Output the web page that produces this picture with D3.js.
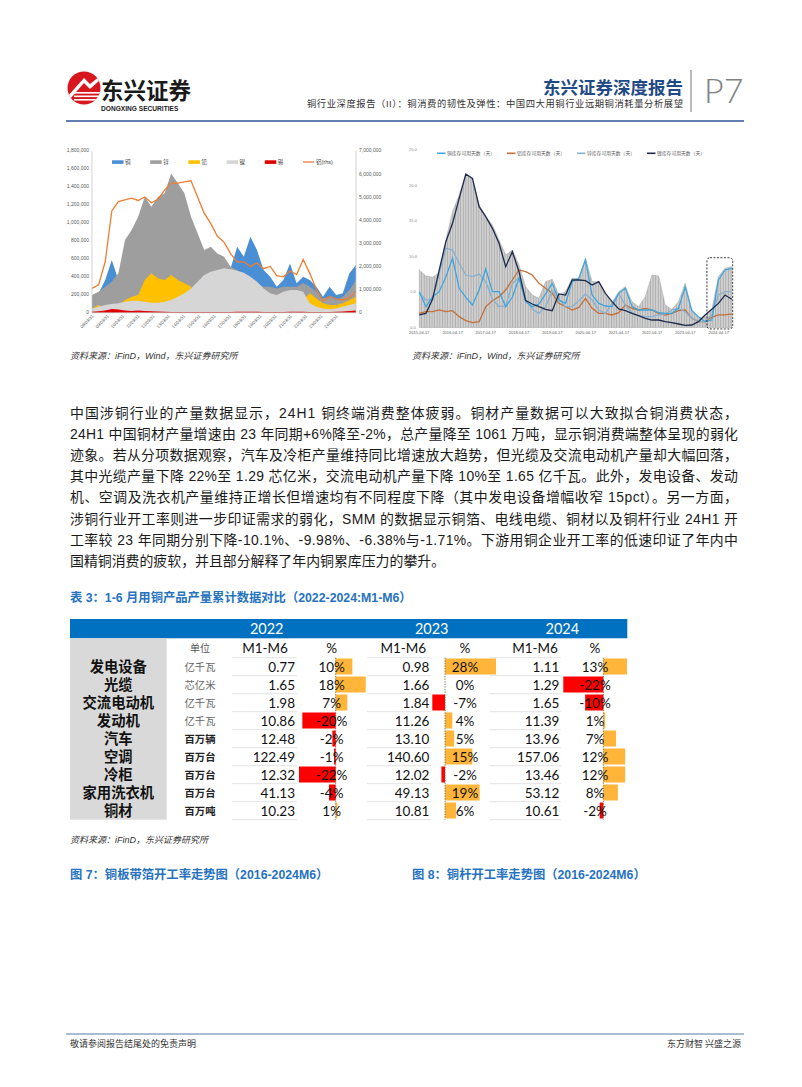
<!DOCTYPE html>
<html><head><meta charset="utf-8">
<script src="https://cdn.jsdelivr.net/npm/d3@7"></script>
<style>
body{margin:0;background:#fff;}
svg{display:block;}
</style></head><body>
<svg id="page" width="802" height="1087"></svg>
<script>
// ---------------- DATA ----------------
// Table 3
const tblYears = ["2022", "2023", "2024"];
const tblCategories = ["发电设备","光缆","交流电动机","发动机","汽车","空调","冷柜","家用洗衣机","铜材"];
const tblUnits = ["亿千瓦","芯亿米","亿千瓦","亿千瓦","百万辆","百万台","百万台","百万台","百万吨"];
const val2022 = [0.77, 1.65, 1.98, 10.86, 12.48, 122.49, 12.32, 41.13, 10.23];
const pct2022 = [10, 18, 7, -20, -2, -1, -22, -4, 1];
const val2023 = [0.98, 1.66, 1.84, 11.26, 13.10, 140.60, 12.02, 49.13, 10.81];
const pct2023 = [28, 0, -7, 4, 5, 15, -2, 19, 6];
const val2024 = [1.11, 1.29, 1.65, 11.39, 13.96, 157.06, 13.46, 53.12, 10.61];
const pct2024 = [13, -22, -10, 1, 7, 12, 12, 8, -2];

// Top-left chart: metal inventories (tonnes), sampled evenly from 2008-03
const lmeNames = ["铜", "锌", "铅", "镍", "锡", "铝(rhs)"];
const lmeCu = [178e3,215e3,363e3,585e3,363e3,511e3,585e3,511e3,437e3,363e3,326e3,289e3,326e3,363e3,363e3,437e3,511e3,622e3,659e3,622e3,585e3,493e3,733e3,622e3,844e3,696e3,474e3,400e3,289e3,363e3,548e3,326e3,400e3,363e3,289e3,178e3,289e3,196e3,215e3,437e3,530e3];
const lmeZn = [196e3,233e3,289e3,344e3,437e3,807e3,919e3,1067e3,1289e3,1178e3,1289e3,1326e3,1548e3,1437e3,1326e3,1067e3,882e3,696e3,733e3,659e3,622e3,511e3,474e3,400e3,363e3,326e3,289e3,289e3,270e3,289e3,289e3,289e3,326e3,289e3,233e3,159e3,178e3,141e3,178e3,252e3,363e3];
const lmePb = [48e3,85e3,48e3,67e3,85e3,141e3,178e3,196e3,363e3,437e3,381e3,363e3,419e3,363e3,326e3,289e3,141e3,150e3,160e3,170e3,180e3,190e3,200e3,210e3,220e3,200e3,180e3,160e3,150e3,140e3,130e3,120e3,140e3,215e3,159e3,104e3,85e3,85e3,104e3,141e3,178e3];
const lmeNi = [48e3,67e3,85e3,96e3,104e3,122e3,133e3,133e3,122e3,111e3,111e3,122e3,141e3,178e3,215e3,270e3,344e3,419e3,456e3,474e3,493e3,482e3,467e3,444e3,400e3,344e3,270e3,215e3,196e3,233e3,252e3,252e3,233e3,104e3,67e3,48e3,37e3,48e3,67e3,85e3,104e3];
const lmeSn = [10e3,15e3,25e3,40e3,35e3,25e3,20e3,25e3,20e3,15e3,12e3,10e3,8e3,8e3,8e3,8e3,8e3,8e3,8e3,8e3,8e3,8e3,10e3,10e3,10e3,10e3,8e3,8e3,8e3,8e3,10e3,10e3,10e3,8e3,8e3,8e3,8e3,10e3,12e3,20e3,25e3];
const lmeAl = [1.05e6,1.2e6,2.2e6,4.4e6,4.8e6,4.87e6,4.95e6,4.85e6,5.0e6,4.75e6,4.9e6,5.3e6,5.6e6,5.6e6,5.65e6,5.7e6,5.0e6,4.3e6,3.85e6,3.3e6,3.05e6,2.55e6,2.2e6,2.2e6,2.0e6,2.15e6,1.9e6,2.0e6,1.6e6,1.55e6,1.8e6,1.65e6,2.3e6,1.7e6,1.0e6,0.5e6,0.7e6,0.6e6,0.55e6,0.65e6,0.9e6];
const lmeLeftTicks = [0,200000,400000,600000,800000,1000000,1200000,1400000,1600000,1800000];
const lmeRightTicks = [0,1000000,2000000,3000000,4000000,5000000,6000000,7000000];
const lmeTickYears = [2008,2009,2010,2011,2012,2013,2014,2015,2016,2017,2018,2019,2020,2021,2022,2023,2024];

// Top-right chart: inventory days of use (days), sampled evenly from 2015-04-17
const invNames = ["铜库存可用天数（天）","铝库存可用天数（天）","锌库存可用天数（天）","镍库存可用天数（天）"];
const invCu = [5.03,2.93,4.33,5.03,7.14,9.71,5.50,4.24,3.16,5.27,8.22,5.03,5.03,2.93,4.24,6.91,3.63,2.93,3.30,4.71,6.20,3.86,3.39,6.44,6.91,9.48,4.56,3.39,3.02,2.93,4.80,5.50,2.93,2.46,2.46,2.46,2.08,1.99,1.99,2.69,5.73,2.36,1.52,0.82,1.05,6.67,8.08,8.31];
const invAl = [1.99,2.22,2.22,2.46,2.22,2.36,1.52,0.96,0.68,0.82,2.93,3.77,4.33,5.27,6.67,8.08,7.84,7.37,6.20,5.50,4.80,3.39,2.93,2.46,2.83,4.10,2.69,1.99,1.99,1.76,2.08,3.16,2.69,2.46,2.69,2.46,1.99,1.76,1.99,2.36,2.46,1.29,0.82,0.82,1.43,1.76,1.76,1.90];
const invZn = [4.80,3.86,3.96,7.61,11.12,10.88,9.01,7.37,7.14,7.51,6.44,3.96,2.93,3.02,6.20,7.05,3.96,2.55,1.99,2.93,5.17,3.96,2.93,2.93,3.77,4.71,3.86,2.46,1.99,3.39,4.71,3.16,2.08,1.62,1.52,1.52,1.76,1.90,2.46,2.69,2.22,1.29,0.82,0.82,1.76,4.56,5.03,5.03];
const invNi = [1.76,1.99,4.0,8.08,12.06,14.63,18.14,21.56,20.95,16.97,15.57,13.93,11.82,8.54,10.65,7.84,3.77,3.30,2.93,2.55,2.36,4.71,4.56,6.67,6.67,6.58,5.97,6.44,4.80,3.63,2.60,2.36,1.99,1.66,1.29,1.05,1.05,0.82,0.68,0.49,0.30,0.35,0.82,1.76,2.55,3.39,4.56,3.96];
const invTotal = [8.08,7.23,7.05,7.70,12.29,16.27,18.61,21.56,20.81,17.21,15.57,14.40,12.29,10.18,10.88,8.78,5.73,4.56,4.10,6.44,6.77,4.56,5.03,6.91,6.91,9.71,6.44,6.44,4.56,3.49,5.03,5.73,3.63,2.93,4.33,7.37,7.23,3.16,2.55,3.63,6.20,2.46,1.29,1.52,2.46,7.14,8.31,8.54];
const invYTicks = [0, 5, 10, 15, 20, 25];
const invTickYears = [2015,2016,2017,2018,2019,2020,2021,2022,2023,2024];

// Text
const paraLines = [
 "中国涉铜行业的产量数据显示，24H1 铜终端消费整体疲弱。铜材产量数据可以大致拟合铜消费状态，",
 "24H1 中国铜材产量增速由 23 年同期+6%降至-2%，总产量降至 1061 万吨，显示铜消费端整体呈现的弱化",
 "迹象。若从分项数据观察，汽车及冷柜产量维持同比增速放大趋势，但光缆及交流电动机产量却大幅回落，",
 "其中光缆产量下降 22%至 1.29 芯亿米，交流电动机产量下降 10%至 1.65 亿千瓦。此外，发电设备、发动",
 "机、空调及洗衣机产量维持正增长但增速均有不同程度下降（其中发电设备增幅收窄 15pct）。另一方面，",
 "涉铜行业开工率则进一步印证需求的弱化，SMM 的数据显示铜箔、电线电缆、铜材以及铜杆行业 24H1 开",
 "工率较 23 年同期分别下降-10.1%、-9.98%、-6.38%与-1.71%。下游用铜企业开工率的低速印证了年内中",
 "国精铜消费的疲软，并且部分解释了年内铜累库压力的攀升。"
];

// ---------------- DRAW ----------------
const svg = d3.select("#page");
const CJK = "'Noto Sans CJK SC', sans-serif";
const MIX = "'Liberation Sans', 'Noto Sans CJK SC', sans-serif";
const NUM = "Lato, 'Liberation Sans', sans-serif";
const loc = d3.formatLocale({decimal: ".", thousands: ",", grouping: [3], currency: ["", ""], minus: "-"});
const defs = svg.append("defs");
svg.append("rect").attr("width", 802).attr("height", 1087).attr("fill", "#fff");

// ---- Header ----
const logo = svg.append("g");
defs.append("clipPath").attr("id", "logoClip").append("circle").attr("cx", 84).attr("cy", 88).attr("r", 16.5);
logo.append("circle").attr("cx", 84).attr("cy", 88).attr("r", 16.5).attr("fill", "#D7161E");
const lg = logo.append("g").attr("clip-path", "url(#logoClip)");
lg.append("path").attr("d", "M66,98 L84,78 L90,84 L100,76 L100,80 L90,89 L84,83 L70,99 Z").attr("fill", "#fff");
[92, 95.5, 99].forEach(y => lg.append("rect").attr("x", 74).attr("y", y).attr("width", 26).attr("height", 1.6).attr("fill", "#fff"));
svg.append("text").attr("x", 101).attr("y", 99).attr("font-family", CJK).attr("font-weight", 700)
  .attr("font-size", 22.5).attr("fill", "#1a1a1a").text("东兴证券");
svg.append("text").attr("x", 101).attr("y", 111).attr("font-family", "'Liberation Sans', sans-serif").attr("font-weight", 700)
  .attr("font-size", 6.6).attr("fill", "#1a1a1a").text("DONGXING SECURITIES");
svg.append("text").attr("x", 683).attr("y", 94).attr("text-anchor", "end").attr("font-family", CJK).attr("font-weight", 700)
  .attr("font-size", 17.5).attr("fill", "#1F4A85").text("东兴证券深度报告");
svg.append("text").attr("x", 307).attr("y", 107).attr("font-family", MIX).attr("textLength", 376).attr("lengthAdjust", "spacing")
  .attr("font-size", 9.3).attr("fill", "#333").text("铜行业深度报告（II）：铜消费的韧性及弹性：中国四大用铜行业远期铜消耗量分析展望");
svg.append("line").attr("x1", 691).attr("x2", 691).attr("y1", 70).attr("y2", 112).attr("stroke", "#8c8c8c").attr("stroke-width", 1.2);
svg.append("text").attr("x", 704).attr("y", 103).attr("font-family", "Lato, sans-serif").attr("font-weight", 300)
  .attr("font-size", 34).attr("fill", "#808080").text("P7");
svg.append("line").attr("x1", 66).attr("x2", 744).attr("y1", 121).attr("y2", 121).attr("stroke", "#2F5597").attr("stroke-width", 1.6);

// ---- Top-left chart ----
{
  const start = new Date(2008, 2, 31);
  const dates = lmeCu.map((_, i) => d3.timeDay.offset(start, i * 158));
  const x = d3.scaleTime().domain(d3.extent(dates)).range([92, 356]);
  const y = d3.scaleLinear().domain([0, 1800000]).range([312.7, 150.7]);
  const y2 = d3.scaleLinear().domain([0, 7000000]).range([312.7, 150.7]);
  const g = svg.append("g");
  const area = d3.area().x((d, i) => x(dates[i])).y0(y(0)).y1(d => y(d)).curve(d3.curveLinear);
  const series = [[lmeCu, "#4A8FD4"], [lmeZn, "#9E9E9E"], [lmePb, "#FFC000"], [lmeNi, "#D6D6D6"], [lmeSn, "#E00000"]];
  series.forEach(([arr, c]) => g.append("path").datum(arr).attr("d", area).attr("fill", c));
  g.append("path").datum(lmeAl).attr("fill", "none").attr("stroke", "#ED7D31").attr("stroke-width", 1.3)
    .attr("d", d3.line().x((d, i) => x(dates[i])).y(d => y2(d)));
  g.append("line").attr("x1", 92).attr("x2", 92).attr("y1", 150.7).attr("y2", 312.7).attr("stroke", "#BFBFBF").attr("stroke-width", 0.7);
  g.append("line").attr("x1", 356).attr("x2", 356).attr("y1", 150.7).attr("y2", 312.7).attr("stroke", "#BFBFBF").attr("stroke-width", 0.7);
  g.append("line").attr("x1", 92).attr("x2", 356).attr("y1", 312.7).attr("y2", 312.7).attr("stroke", "#BFBFBF").attr("stroke-width", 0.7);
  const fmt = d3.format(",");
  lmeLeftTicks.forEach(t => g.append("text").attr("x", 89).attr("y", y(t) + 1.7).attr("text-anchor", "end")
    .attr("font-family", "'Liberation Sans', sans-serif").attr("font-size", 5).attr("fill", "#595959").text(fmt(t)));
  lmeRightTicks.forEach(t => g.append("text").attr("x", 359).attr("y", y2(t) + 1.7)
    .attr("font-family", "'Liberation Sans', sans-serif").attr("font-size", 5).attr("fill", "#595959").text(fmt(t)));
  lmeTickYears.forEach(yr => {
    const xx = x(new Date(yr, 2, 31));
    g.append("text").attr("transform", `translate(${xx + 2},${316.5}) rotate(-45)`).attr("text-anchor", "end")
      .attr("font-family", "'Liberation Sans', sans-serif").attr("font-size", 4.4).attr("fill", "#595959")
      .text(String(yr).slice(2) + "/03/31");
  });
  const lc = ["#4A8FD4", "#9E9E9E", "#FFC000", "#D6D6D6", "#E00000", "#ED7D31"];
  lmeNames.forEach((n, i) => {
    const lx = 112 + i * 38.2;
    if (i < 5) g.append("rect").attr("x", lx).attr("y", 160.3).attr("width", 11.5).attr("height", 3.6).attr("fill", lc[i]);
    else g.append("line").attr("x1", lx).attr("x2", lx + 11).attr("y1", 162).attr("y2", 162).attr("stroke", lc[i]).attr("stroke-width", 1.3);
    g.append("text").attr("x", lx + 13).attr("y", 164).attr("font-family", MIX).attr("font-size", 5.5).attr("fill", "#404040").text(n);
  });
}

// ---- Top-right chart ----
{
  const start = new Date(2015, 3, 17);
  const dates = invCu.map((_, i) => d3.timeDay.offset(start, i * 73));
  const x = d3.scaleTime().domain(d3.extent(dates)).range([419.3, 731.7]);
  const y = d3.scaleLinear().domain([0, 25]).range([327.5, 149.5]);
  defs.append("clipPath").attr("id", "rclip").append("rect").attr("x", 400).attr("y", 140).attr("width", 338).attr("height", 200);
  const pat = defs.append("pattern").attr("id", "hatch").attr("patternUnits", "userSpaceOnUse").attr("width", 2.6).attr("height", 10);
  pat.append("rect").attr("width", 2.6).attr("height", 10).attr("fill", "#CFCFCF");
  pat.append("rect").attr("width", 0.7).attr("height", 10).attr("fill", "#A5A5A5");
  const g = svg.append("g").attr("clip-path", "url(#rclip)");
  g.append("path").datum(invTotal).attr("fill", "url(#hatch)").attr("stroke", "#A0A0A0").attr("stroke-width", 0.5)
    .attr("d", d3.area().x((d, i) => x(dates[i])).y0(y(0)).y1(d => y(d)));
  const line = d3.line().x((d, i) => x(dates[i])).y(d => y(d));
  const cols = ["#3FA6DD", "#C4703A", "#8AB0CE", "#1E2B4D"];
  [[invAl, cols[1]], [invZn, cols[2]], [invCu, cols[0]], [invNi, cols[3]]].forEach(([arr, c]) =>
    g.append("path").datum(arr).attr("fill", "none").attr("stroke", c).attr("stroke-width", 1.3).attr("d", line));
  invYTicks.forEach(t => g.append("text").attr("x", 413).attr("y", y(t) + 1.4).attr("text-anchor", "middle")
    .attr("font-family", "'Liberation Sans', sans-serif").attr("font-size", 4).attr("fill", "#7f7f7f").text(d3.format(".1f")(t)));
  invTickYears.forEach(yr => g.append("text").attr("x", x(new Date(yr, 3, 17))).attr("y", 334).attr("text-anchor", "middle")
    .attr("font-family", "'Liberation Sans', sans-serif").attr("font-size", 4).attr("fill", "#595959").text(`${yr}-04-17`));
  const bx0 = x(new Date(2023, 11, 10)), bx1 = x(dates[dates.length - 1]) + 1;
  g.append("rect").attr("x", bx0).attr("y", y(9.8)).attr("width", bx1 - bx0).attr("height", y(-0.2) - y(9.8)).attr("rx", 3)
    .attr("fill", "none").attr("stroke", "#222").attr("stroke-width", 0.9).attr("stroke-dasharray", "2,1.5");
  invNames.forEach((n, i) => {
    const lx = 437 + i * 70;
    g.append("line").attr("x1", lx).attr("x2", lx + 8.5).attr("y1", 153.3).attr("y2", 153.3).attr("stroke", cols[i]).attr("stroke-width", 1.6);
    g.append("text").attr("x", lx + 10).attr("y", 155).attr("font-family", MIX).attr("font-size", 4.8).attr("fill", "#595959").text(n);
  });
}

// sources
[70, 412].forEach(xx => svg.append("text").attr("x", xx).attr("y", 359).attr("font-family", MIX).attr("font-style", "italic")
  .attr("font-size", 9).attr("fill", "#333").text("资料来源：iFinD，Wind，东兴证券研究所"));

// ---- Paragraph ----
paraLines.forEach((t, i) => {
  const tx = svg.append("text").attr("x", 70).attr("y", 418 + i * 21.1).attr("font-family", MIX)
    .attr("font-size", 13.9).attr("fill", "#1a1a1a").text(t);
  if (i < paraLines.length - 1) tx.attr("textLength", 668).attr("lengthAdjust", "spacing");
});

// ---- Table title ----
svg.append("text").attr("x", 70).attr("y", 602).attr("font-family", MIX).attr("font-weight", 700)
  .attr("font-size", 12.3).attr("fill", "#2672BF").text("表 3：1-6 月用铜产品产量累计数据对比（2022-2024:M1-M6）");

// ---- Table ----
{
  const g = svg.append("g");
  const rowY = d3.scaleBand().domain(tblCategories).range([657.7, 819.7]);
  const bw = rowY.bandwidth();
  g.append("rect").attr("x", 70).attr("y", 619).attr("width", 557.3).attr("height", 19.3).attr("fill", "#0070C0");
  g.append("rect").attr("x", 70).attr("y", 638.3).attr("width", 96.7).attr("height", 181.4).attr("fill", "#D9D9D9");
  const cols = [
    {year: tblYears[0], vals: val2022, pcts: pct2022, valRight: 295, sepL: 232, sepR: 297, barL: 299, barR: 365.7, pctX: 331.7, mX: 265, hdrX: 266.7},
    {year: tblYears[1], vals: val2023, pcts: pct2023, valRight: 429.3, sepL: 367, sepR: 431, barL: 432.3, barR: 496, pctX: 465, mX: 403.3, hdrX: 431.7},
    {year: tblYears[2], vals: val2024, pcts: pct2024, valRight: 559.3, sepL: 490, sepR: 561, barL: 563.3, barR: 627, pctX: 595, mX: 535, hdrX: 562.3}
  ];
  g.append("text").attr("x", 200).attr("y", 652).attr("text-anchor", "middle").attr("font-family", CJK)
    .attr("font-size", 10).attr("fill", "#555").text("单位");
  const pf = loc.format(".0%");
  cols.forEach(c => {
    g.append("text").attr("x", c.hdrX).attr("y", 634).attr("text-anchor", "middle").attr("font-family", NUM)
      .attr("font-size", 14.5).attr("fill", "#fff").text(c.year);
    g.append("text").attr("x", c.mX).attr("y", 652.7).attr("text-anchor", "middle").attr("font-family", NUM)
      .attr("font-size", 13.5).attr("fill", "#111").text("M1-M6");
    g.append("text").attr("x", c.pctX).attr("y", 652.7).attr("text-anchor", "middle").attr("font-family", NUM)
      .attr("font-size", 13.5).attr("fill", "#111").text("%");
    [657.7].concat(tblCategories.map(k => rowY(k) + bw)).forEach(yy =>
      g.append("line").attr("x1", c.sepL).attr("x2", c.sepR).attr("y1", yy).attr("y2", yy).attr("stroke", "#DADADA").attr("stroke-width", 0.8));
    const px = d3.scaleLinear().domain(d3.extent(c.pcts)).range([c.barL, c.barR]);
    tblCategories.forEach((k, i) => {
      const v = c.pcts[i];
      const x0 = px(0), x1 = px(v);
      if (v !== 0) g.append("rect").attr("x", Math.min(x0, x1)).attr("y", rowY(k) + 0.8).attr("width", Math.abs(x1 - x0))
        .attr("height", bw - 2).attr("fill", v > 0 ? "#FFB539" : "#FF0000");
    });
    g.append("line").attr("x1", px(0)).attr("x2", px(0)).attr("y1", 657.7).attr("y2", 819.7)
      .attr("stroke", "#6b5a2a").attr("stroke-width", 0.8).attr("stroke-dasharray", "1.4,1.2");
    tblCategories.forEach((k, i) => {
      const cy = rowY(k) + bw / 2 + 4.9;
      g.append("text").attr("x", c.valRight).attr("y", cy).attr("text-anchor", "end").attr("font-family", NUM)
        .attr("font-size", 13.5).attr("fill", "#111").text(d3.format(".2f")(c.vals[i]));
      g.append("text").attr("x", c.pctX).attr("y", cy).attr("text-anchor", "middle").attr("font-family", NUM)
        .attr("font-size", 13.5).attr("fill", "#111").text(pf(c.pcts[i] / 100));
    });
  });
  tblCategories.forEach((k, i) => {
    const cy = rowY(k) + bw / 2 + 5;
    g.append("text").attr("x", 118.3).attr("y", cy).attr("text-anchor", "middle").attr("font-family", MIX)
      .attr("font-weight", 700).attr("font-size", 14.3).attr("fill", "#111").text(k);
    g.append("text").attr("x", 200).attr("y", cy - 1).attr("text-anchor", "middle").attr("font-family", MIX)
      .attr("font-weight", i < 4 ? 400 : 700).attr("font-size", 10.3).attr("fill", i < 4 ? "#666" : "#222").text(tblUnits[i]);
  });
}

svg.append("text").attr("x", 70).attr("y", 843).attr("font-family", MIX).attr("font-style", "italic")
  .attr("font-size", 9).attr("fill", "#333").text("资料来源：iFinD，东兴证券研究所");
svg.append("text").attr("x", 70).attr("y", 879).attr("font-family", MIX).attr("font-weight", 700)
  .attr("font-size", 12.3).attr("fill", "#2672BF").text("图 7：铜板带箔开工率走势图（2016-2024M6）");
svg.append("text").attr("x", 412).attr("y", 879).attr("font-family", MIX).attr("font-weight", 700)
  .attr("font-size", 12.3).attr("fill", "#2672BF").text("图 8：铜杆开工率走势图（2016-2024M6）");

// ---- Footer ----
svg.append("line").attr("x1", 66).attr("x2", 744).attr("y1", 1034).attr("y2", 1034).attr("stroke", "#A9BCD4").attr("stroke-width", 1.8);
svg.append("text").attr("x", 70).attr("y", 1047).attr("font-family", CJK).attr("font-size", 9).attr("fill", "#333").text("敬请参阅报告结尾处的免责声明");
svg.append("text").attr("x", 741).attr("y", 1047).attr("text-anchor", "end").attr("font-family", CJK).attr("font-size", 9).attr("fill", "#333").text("东方财智 兴盛之源");
</script>
</body></html>
